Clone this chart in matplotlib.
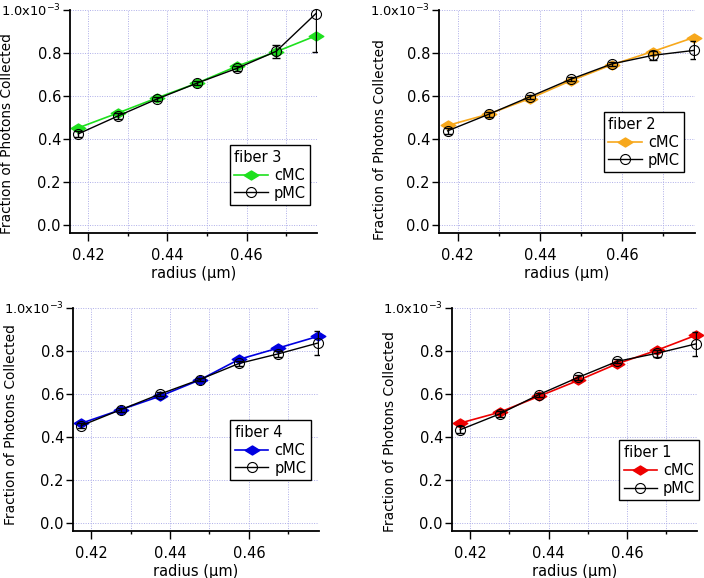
import numpy as np
from matplotlib import pyplot as plt
from matplotlib.path import Path

# radius in um, photon fraction in units of 1e-3
radius = [0.4175, 0.4275, 0.4375, 0.4475, 0.4575, 0.4675, 0.4775]

fiber3_cmc = [0.452, 0.521, 0.592, 0.660, 0.738, 0.806, 0.880]
fiber3_pmc = [0.424, 0.507, 0.587, 0.660, 0.728, 0.808, 0.983]
fiber3_err = [0.015, 0.012, 0.010, 0.008, 0.010, 0.031, 0.180]

fiber2_cmc = [0.463, 0.516, 0.588, 0.671, 0.745, 0.807, 0.872]
fiber2_pmc = [0.438, 0.515, 0.596, 0.678, 0.749, 0.789, 0.812]
fiber2_err = [0.015, 0.012, 0.010, 0.010, 0.010, 0.022, 0.042]

fiber4_cmc = [0.464, 0.527, 0.590, 0.665, 0.761, 0.814, 0.868]
fiber4_pmc = [0.453, 0.527, 0.600, 0.667, 0.742, 0.787, 0.837]
fiber4_err = [0.012, 0.010, 0.010, 0.008, 0.010, 0.015, 0.055]

fiber1_cmc = [0.465, 0.515, 0.589, 0.663, 0.741, 0.803, 0.873]
fiber1_pmc = [0.434, 0.507, 0.597, 0.677, 0.752, 0.789, 0.833]
fiber1_err = [0.015, 0.012, 0.010, 0.010, 0.010, 0.018, 0.055]

plt.rcParams['font.family'] = ['DejaVu Sans']
plt.rcParams['font.size'] = 10

# wide diamond like the Igor marker
diamond = Path([(-1, 0), (0, 0.62), (1, 0), (0, -0.62), (-1, 0)],
               [Path.MOVETO, Path.LINETO, Path.LINETO, Path.LINETO, Path.CLOSEPOLY])

W, H = 704, 578
fig = plt.figure(figsize=(W / 100, H / 100), dpi=100)

# left px, top px, width px, data, colour, title, legend anchor, ylabel pos (axes frac)
panels = [
    (70, 10, 247, fiber3_cmc, fiber3_pmc, fiber3_err, '#1ee01e', 'fiber 3', (0.648, 0.126), (-0.226, 0.444)),
    (439, 10, 256, fiber2_cmc, fiber2_pmc, fiber2_err, '#f7a81c', 'fiber 2', (0.645, 0.274), (-0.203, 0.417)),
    (73, 308, 246, fiber4_cmc, fiber4_pmc, fiber4_err, '#0000e0', 'fiber 4', (0.640, 0.229), (-0.225, 0.478)),
    (452, 308, 245, fiber1_cmc, fiber1_pmc, fiber1_err, '#ee0000', 'fiber 1', (0.683, 0.139), (-0.224, 0.444)),
]

for left, top, width, cmc, pmc, err, col, name, loc, ylpos in panels:
    ax = fig.add_axes([left / W, (H - top - 223) / H, width / W, 223 / H])

    ax.errorbar(radius, pmc, yerr=err, fmt='none', ecolor='black',
                elinewidth=1, capsize=3, capthick=1, zorder=3)
    ax.plot(radius, cmc, color=col, lw=1.2, marker=diamond, ms=10.5,
            mfc=col, mec=col, label='cMC', clip_on=False, zorder=2)
    ax.plot(radius, pmc, color='black', lw=1.0, marker='o', ms=7.2,
            mfc='none', mec='black', mew=0.8, label='pMC', clip_on=False, zorder=4)

    ax.set_xlim(0.4154, 0.4778)
    ax.set_ylim(-0.037, 1.0)
    ax.set_xticks([0.42, 0.44, 0.46])
    ax.set_xticklabels(['0.42', '0.44', '0.46'])
    ax.set_xticks([0.43, 0.45, 0.47], minor=True)
    ax.set_yticks([0.0, 0.2, 0.4, 0.6, 0.8, 1.0])
    labs = ax.set_yticklabels(['0.0', '0.2', '0.4', '0.6', '0.8', r'1.0x10$^{\mathregular{-3}}$'])

    ax.spines['top'].set_visible(False)
    ax.spines['right'].set_visible(False)
    ax.spines['left'].set_linewidth(1.3)
    ax.spines['bottom'].set_linewidth(1.3)
    ax.tick_params(axis='y', which='major', direction='out', length=5, width=1, pad=1.5, labelsize=10.5)
    ax.tick_params(axis='x', which='major', direction='out', length=6, width=1, pad=5, labelsize=10.5)
    ax.tick_params(axis='x', which='minor', direction='out', length=2.5, width=1)
    labs[-1].set_fontsize(9.4)

    ax.grid(axis='x', which='both', color='#aeaee8', linestyle=(0, (1, 1.5)), lw=0.7)
    ax.grid(axis='y', which='major', color='#aeaee8', linestyle=(0, (1, 1.5)), lw=0.7)
    ax.set_axisbelow(True)

    ax.set_xlabel('radius (\u00b5m)', fontsize=10.5, labelpad=2)
    ax.set_ylabel('Fraction of Photons Collected', fontsize=9.9)
    ax.yaxis.set_label_coords(*ylpos)

    leg = ax.legend(title=name, loc='lower left', bbox_to_anchor=loc, fontsize=10.5,
                    title_fontsize=10.5, fancybox=False, framealpha=1, edgecolor='black',
                    handlelength=2.3, borderpad=0.3, labelspacing=0.2, handletextpad=0.4,
                    borderaxespad=0)
    leg._legend_box.align = 'left'
    leg.get_frame().set_linewidth(1)

fig.savefig('out.png', dpi=100)
